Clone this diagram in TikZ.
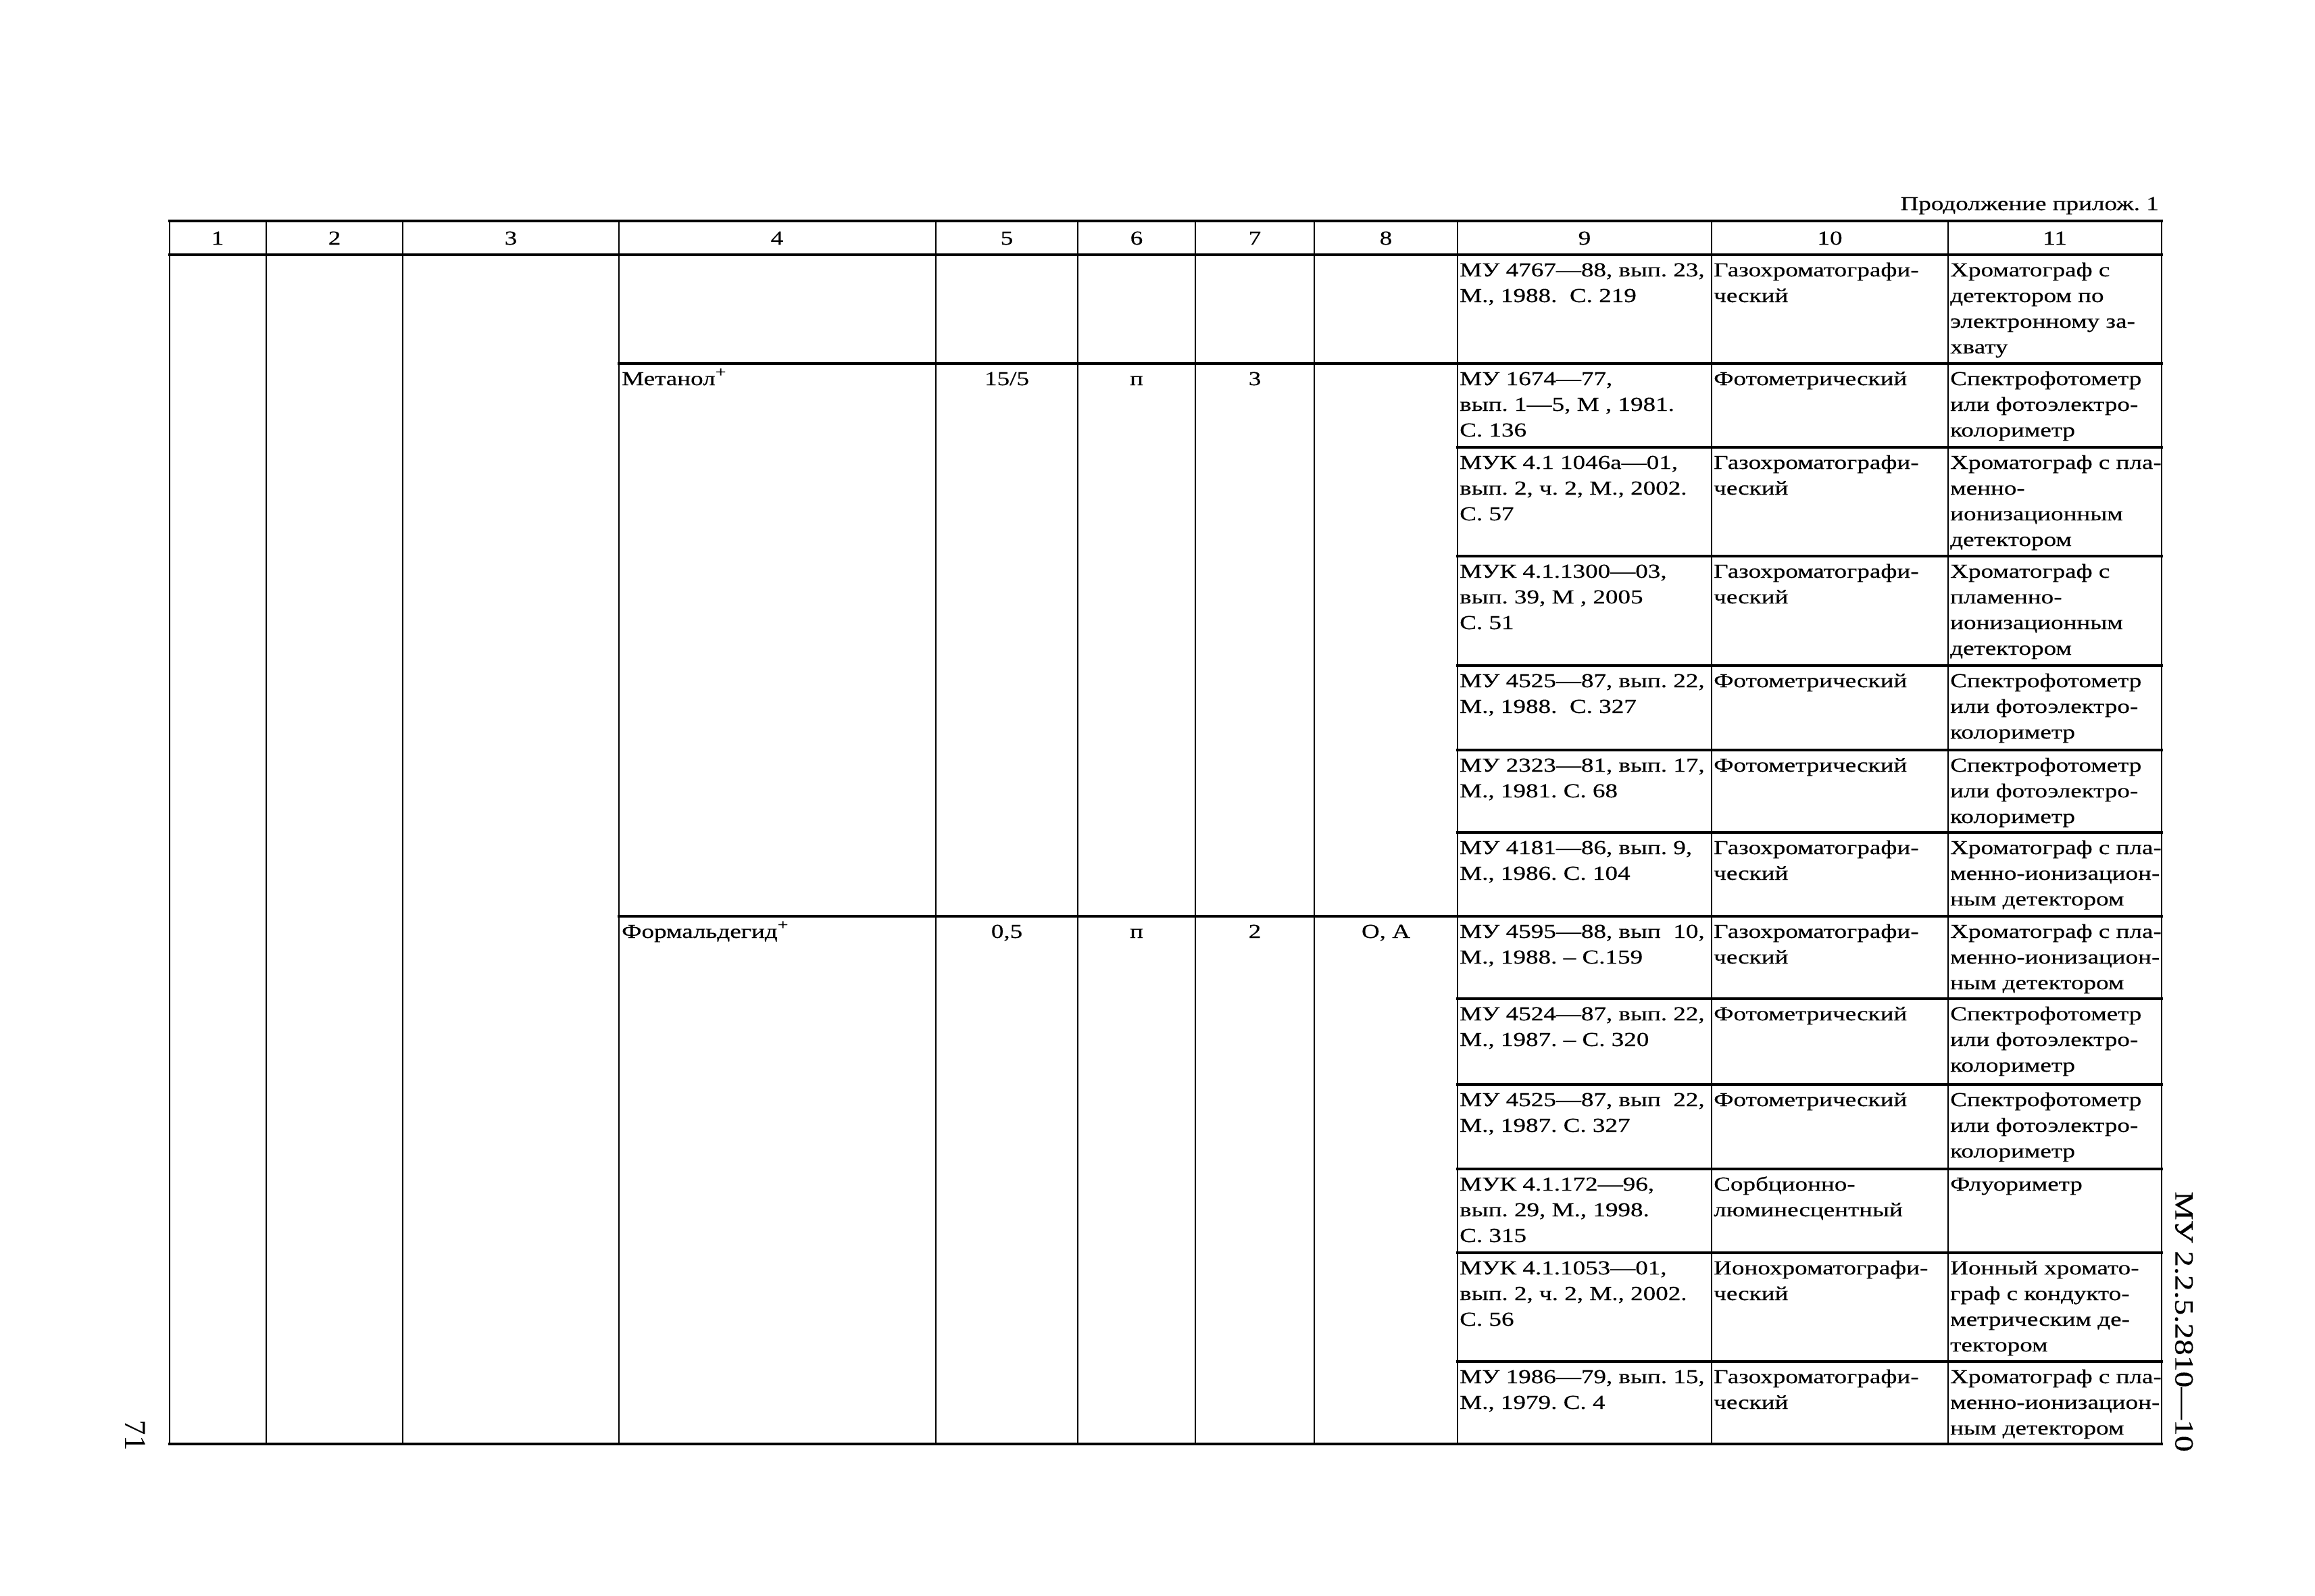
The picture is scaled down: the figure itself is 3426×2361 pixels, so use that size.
\documentclass[tikz,border=0pt]{standalone}
\usepackage{fontspec}
\setmainfont{Liberation Serif}
\newfontfamily\cellfont[FakeStretch=1.27,FakeBold=0.4]{Liberation Serif}
\newfontfamily\sidefont[FakeStretch=1.22,FakeBold=0.4]{Liberation Serif}
\newcommand{\tcell}[1]{\begin{tabular}[t]{@{}l@{}}#1\end{tabular}}
\newcommand{\supplus}{\raisebox{0.42em}{\fontsize{22}{22}\selectfont +}}
\frenchspacing
\begin{document}
\begin{tikzpicture}[x=1pt,y=-1pt,
  hl/.style={line width=3.4pt, line cap=rect},
  vl/.style={line width=2.8pt},
  cell/.style={font=\cellfont\fontsize{29.2}{38}\selectfont, inner sep=0pt, anchor=base west},
  mid/.style={font=\cellfont\fontsize{29.2}{38}\selectfont, inner sep=0pt, anchor=base},
  side/.style={font=\sidefont\fontsize{39}{42}\selectfont, inner sep=0pt, rotate=-90, anchor=center}]
\fill[white] (0,0) rectangle (3426,2361);
\useasboundingbox (0,0) rectangle (3426,2361);

% vertical rules
\foreach \x in {251,394,596,916,1385,1595,1769,1945,2157,2533,2883,3199}
  \draw[vl] (\x,327) -- (\x,2137);
% full-width rules
\foreach \y in {327,377,2137}
  \draw[hl] (251,\y) -- (3199,\y);
% group rules (columns 4-11)
\foreach \y in {538,1356}
  \draw[hl] (916,\y) -- (3199,\y);
% method rules (columns 9-11)
\foreach \y in {662,823,985,1110,1232,1478,1605,1730,1854,2015}
  \draw[hl] (2157,\y) -- (3199,\y);

% caption
\node[cell, anchor=base east] (cap) at (3195,311) {Продолжение прилож. 1};

% header numbers
\node[mid] (h1) at (322,362) {1};
\node[mid] (h2) at (495,362) {2};
\node[mid] (h3) at (756,362) {3};
\node[mid] (h4) at (1150,362) {4};
\node[mid] (h5) at (1490,362) {5};
\node[mid] (h6) at (1682,362) {6};
\node[mid] (h7) at (1857,362) {7};
\node[mid] (h8) at (2051,362) {8};
\node[mid] (h9) at (2345,362) {9};
\node[mid] (h10) at (2708,362) {10};
\node[mid] (h11) at (3041,362) {11};

% substances
\node[cell] (s1) at (920,570) {Метанол\supplus};
\node[mid] (s1c5) at (1490,570) {15/5};
\node[mid] (s1c6) at (1682,570) {п};
\node[mid] (s1c7) at (1857,570) {3};
\node[cell] (s2) at (920,1388) {Формальдегид\supplus};
\node[mid] (s2c5) at (1490,1388) {0,5};
\node[mid] (s2c6) at (1682,1388) {п};
\node[mid] (s2c7) at (1857,1388) {2};
\node[mid] (s2c8) at (2051,1388) {О, А};

% row 1
\node[cell] (r1a) at (2160,409) {\tcell{МУ 4767—88, вып. 23,\\М., 1988.\ \ С. 219}};
\node[cell] (r1b) at (2536,409) {\tcell{Газохроматографи-\\ческий}};
\node[cell] (r1c) at (2886,409) {\tcell{Хроматограф с\\детектором по\\электронному за-\\хвату}};
% row 2
\node[cell] (r2a) at (2160,570) {\tcell{МУ 1674—77,\\вып. 1—5, М , 1981.\\С. 136}};
\node[cell] (r2b) at (2536,570) {\tcell{Фотометрический}};
\node[cell] (r2c) at (2886,570) {\tcell{Спектрофотометр\\или фотоэлектро-\\колориметр}};
% row 3
\node[cell] (r3a) at (2160,694) {\tcell{МУК 4.1 1046а—01,\\вып. 2, ч. 2, М., 2002.\\С. 57}};
\node[cell] (r3b) at (2536,694) {\tcell{Газохроматографи-\\ческий}};
\node[cell] (r3c) at (2886,694) {\tcell{Хроматограф с пла-\\менно-\\ионизационным\\детектором}};
% row 4
\node[cell] (r4a) at (2160,855) {\tcell{МУК 4.1.1300—03,\\вып. 39, М , 2005\\С. 51}};
\node[cell] (r4b) at (2536,855) {\tcell{Газохроматографи-\\ческий}};
\node[cell] (r4c) at (2886,855) {\tcell{Хроматограф с\\пламенно-\\ионизационным\\детектором}};
% row 5
\node[cell] (r5a) at (2160,1017) {\tcell{МУ 4525—87, вып. 22,\\М., 1988.\ \ С. 327}};
\node[cell] (r5b) at (2536,1017) {\tcell{Фотометрический}};
\node[cell] (r5c) at (2886,1017) {\tcell{Спектрофотометр\\или фотоэлектро-\\колориметр}};
% row 6
\node[cell] (r6a) at (2160,1142) {\tcell{МУ 2323—81, вып. 17,\\М., 1981. С. 68}};
\node[cell] (r6b) at (2536,1142) {\tcell{Фотометрический}};
\node[cell] (r6c) at (2886,1142) {\tcell{Спектрофотометр\\или фотоэлектро-\\колориметр}};
% row 7
\node[cell] (r7a) at (2160,1264) {\tcell{МУ 4181—86, вып. 9,\\М., 1986. С. 104}};
\node[cell] (r7b) at (2536,1264) {\tcell{Газохроматографи-\\ческий}};
\node[cell] (r7c) at (2886,1264) {\tcell{Хроматограф с пла-\\менно-ионизацион-\\ным детектором}};
% row 8
\node[cell] (r8a) at (2160,1388) {\tcell{МУ 4595—88, вып\ \ 10,\\М., 1988. – С.159}};
\node[cell] (r8b) at (2536,1388) {\tcell{Газохроматографи-\\ческий}};
\node[cell] (r8c) at (2886,1388) {\tcell{Хроматограф с пла-\\менно-ионизацион-\\ным детектором}};
% row 9
\node[cell] (r9a) at (2160,1510) {\tcell{МУ 4524—87, вып. 22,\\М., 1987. – С. 320}};
\node[cell] (r9b) at (2536,1510) {\tcell{Фотометрический}};
\node[cell] (r9c) at (2886,1510) {\tcell{Спектрофотометр\\или фотоэлектро-\\колориметр}};
% row 10
\node[cell] (r10a) at (2160,1637) {\tcell{МУ 4525—87, вып\ \ 22,\\М., 1987. С. 327}};
\node[cell] (r10b) at (2536,1637) {\tcell{Фотометрический}};
\node[cell] (r10c) at (2886,1637) {\tcell{Спектрофотометр\\или фотоэлектро-\\колориметр}};
% row 11
\node[cell] (r11a) at (2160,1762) {\tcell{МУК 4.1.172—96,\\вып. 29, М., 1998.\\С. 315}};
\node[cell] (r11b) at (2536,1762) {\tcell{Сорбционно-\\люминесцентный}};
\node[cell] (r11c) at (2886,1762) {\tcell{Флуориметр}};
% row 12
\node[cell] (r12a) at (2160,1886) {\tcell{МУК 4.1.1053—01,\\вып. 2, ч. 2, М., 2002.\\С. 56}};
\node[cell] (r12b) at (2536,1886) {\tcell{Ионохроматографи-\\ческий}};
\node[cell] (r12c) at (2886,1886) {\tcell{Ионный хромато-\\граф с кондукто-\\метрическим де-\\тектором}};
% row 13
\node[cell] (r13a) at (2160,2047) {\tcell{МУ 1986—79, вып. 15,\\М., 1979. С. 4}};
\node[cell] (r13b) at (2536,2047) {\tcell{Газохроматографи-\\ческий}};
\node[cell] (r13c) at (2886,2047) {\tcell{Хроматограф с пла-\\менно-ионизацион-\\ным детектором}};

% margin texts
\node[side] (doc) at (3232,1956) {МУ 2.2.5.2810—10};
\node[side, font=\fontsize{45}{47}\selectfont] (page) at (200,2124) {71};
\end{tikzpicture}
\end{document}
